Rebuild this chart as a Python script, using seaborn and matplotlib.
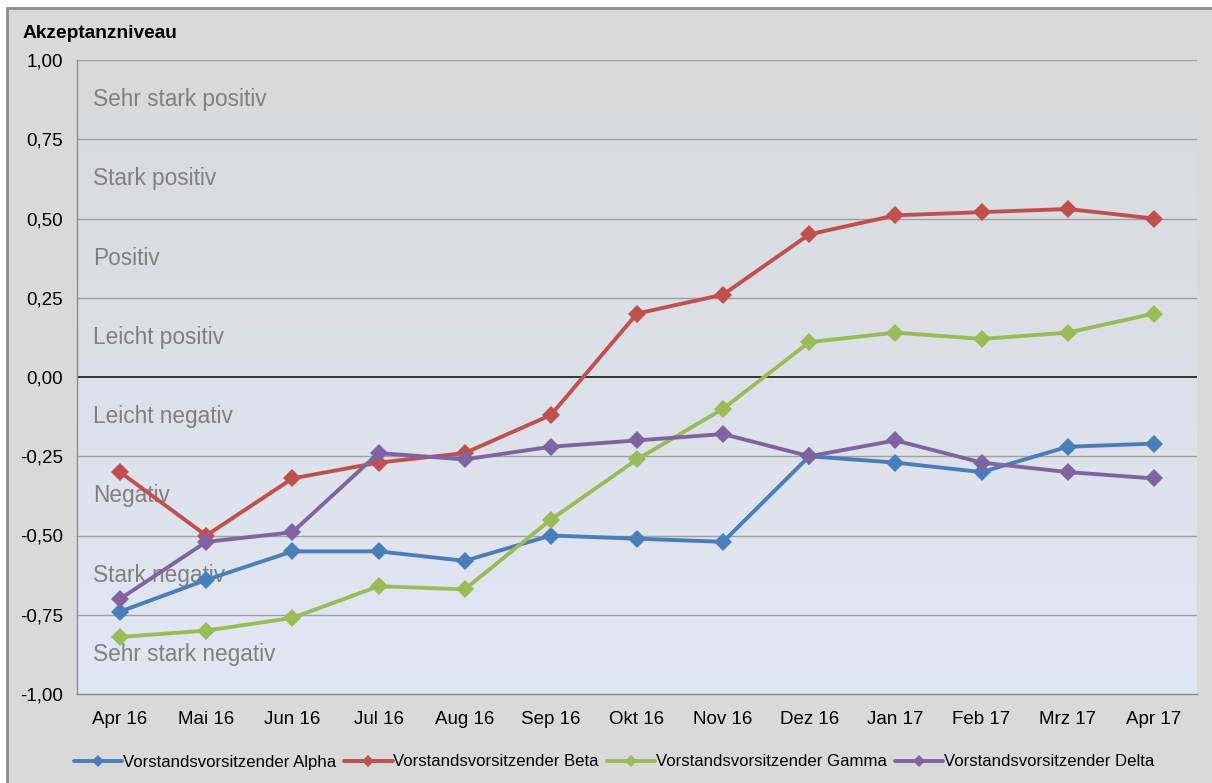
import numpy as np
import pandas as pd
import matplotlib
matplotlib.use("Agg")
import matplotlib.pyplot as plt
from matplotlib.lines import Line2D
from matplotlib.colors import LinearSegmentedColormap
import seaborn as sns

months = ["Apr 16", "Mai 16", "Jun 16", "Jul 16", "Aug 16", "Sep 16", "Okt 16",
          "Nov 16", "Dez 16", "Jan 17", "Feb 17", "Mrz 17", "Apr 17"]
alpha = [-0.74, -0.64, -0.55, -0.55, -0.58, -0.50, -0.51, -0.52, -0.25, -0.27, -0.30, -0.22, -0.21]
beta = [-0.30, -0.50, -0.32, -0.27, -0.24, -0.12, 0.20, 0.26, 0.45, 0.51, 0.52, 0.53, 0.50]
gamma = [-0.82, -0.80, -0.76, -0.66, -0.67, -0.45, -0.26, -0.10, 0.11, 0.14, 0.12, 0.14, 0.20]
delta = [-0.70, -0.52, -0.49, -0.24, -0.26, -0.22, -0.20, -0.18, -0.25, -0.20, -0.27, -0.30, -0.32]
series_names = ["Vorstandsvorsitzender Alpha", "Vorstandsvorsitzender Beta",
                "Vorstandsvorsitzender Gamma", "Vorstandsvorsitzender Delta"]
zone_labels = ["Sehr stark positiv", "Stark positiv", "Positiv", "Leicht positiv",
               "Leicht negativ", "Negativ", "Stark negativ", "Sehr stark negativ"]
y_ticks = [1.0, 0.75, 0.5, 0.25, 0.0, -0.25, -0.5, -0.75, -1.0]

colors = ["#4a7ebb", "#c0504d", "#9bbb59", "#8064a2"]

sns.set_style("white")
plt.rcParams["font.family"] = ["Liberation Sans", "DejaVu Sans"]
plt.rcParams["text.color"] = "black"
plt.rcParams["xtick.labelcolor"] = "black"
plt.rcParams["ytick.labelcolor"] = "black"

rows = []
for name, vals in zip(series_names, [alpha, beta, gamma, delta]):
    for i, v in enumerate(vals):
        rows.append({"pos": i, "wert": v, "serie": name})
df = pd.DataFrame(rows)

W, H = 1212, 783
bg = "#d9d9d9"
fig = plt.figure(figsize=(W / 100, H / 100), dpi=100, facecolor="white")
# chart frame: grey outline on top/left, fill running past the right and bottom edge
frame = plt.Rectangle((7 / W, -0.05), 1.1, 1.05 - 7.5 / H, transform=fig.transFigure,
                      facecolor=bg, edgecolor="#8c8c8c", linewidth=2.0, zorder=-10)
fig.patches.append(frame)
ax = fig.add_axes([77 / W, 1 - 694 / H, 1120 / W, 634 / H])
ax.set_facecolor(bg)

# vertical gradient from grey (top) to pale blue (bottom)
cmap = LinearSegmentedColormap.from_list("bg", ["#d9d9d9", "#dce0e8", "#e0e7f4"])
grad = np.linspace(0, 1, 256).reshape(-1, 1)
ax.imshow(grad, extent=(-0.5, 12.5, -1.0, 1.0), origin="upper", cmap=cmap, aspect="auto", zorder=0)

for y in y_ticks:
    if y == 0.0:
        ax.axhline(0, color="#262626", linewidth=1.3, zorder=1)
    elif y != -1.0:
        ax.axhline(y, color="#a0a0a0", linewidth=1.0, zorder=1)

for k, lab in enumerate(zone_labels):
    yc = 0.875 - 0.25 * k
    ax.text(-0.31, yc, lab, fontsize=16.3, color="#808080", va="center", ha="left", zorder=2)

sns.lineplot(data=df, x="pos", y="wert", hue="serie", palette=colors, marker="D",
             markersize=9, markeredgewidth=0, linewidth=2.8, ax=ax, legend=False, zorder=3)

ax.set_xlim(-0.5, 12.5)
ax.set_ylim(-1.0, 1.0)
ax.set_xticks(range(len(months)))
ax.set_xticklabels(months, fontsize=13.5)
ax.set_xticks(np.arange(-0.5, 13, 1.0), minor=True)
ax.tick_params(axis="x", which="major", length=0, pad=12, labelcolor="black")
ax.tick_params(axis="x", which="minor", length=6, width=1, color="#8c8c8c", direction="out")
ax.set_yticks(y_ticks)
ax.set_yticklabels([f"{v:.2f}".replace(".", ",") for v in y_ticks], fontsize=13.5)
ax.tick_params(axis="y", length=6, width=1, color="#8c8c8c", direction="out", pad=4,
               labelcolor="black")
ax.set_xlabel("")
ax.set_ylabel("")
for side in ["top", "right"]:
    ax.spines[side].set_visible(False)
for side in ["left", "bottom"]:
    ax.spines[side].set_color("#8c8c8c")
    ax.spines[side].set_linewidth(1.0)

fig.text(23 / W, 1 - 33 / H, "Akzeptanzniveau", fontsize=13.8, fontweight="bold",
         ha="left", va="center", color="black")

handles = [Line2D([0], [0], color=c, marker="D", markersize=6, markeredgewidth=0, linewidth=2.8)
           for c in colors]
leg = fig.legend(handles, series_names, loc="center", bbox_to_anchor=(614 / W, 1 - 762 / H), ncol=4,
                 frameon=False, fontsize=12.1, handlelength=2.9, handletextpad=0.05,
                 columnspacing=0.45)
for t in leg.get_texts():
    t.set_color("black")

fig.savefig("out.png", dpi=100, facecolor="white")
